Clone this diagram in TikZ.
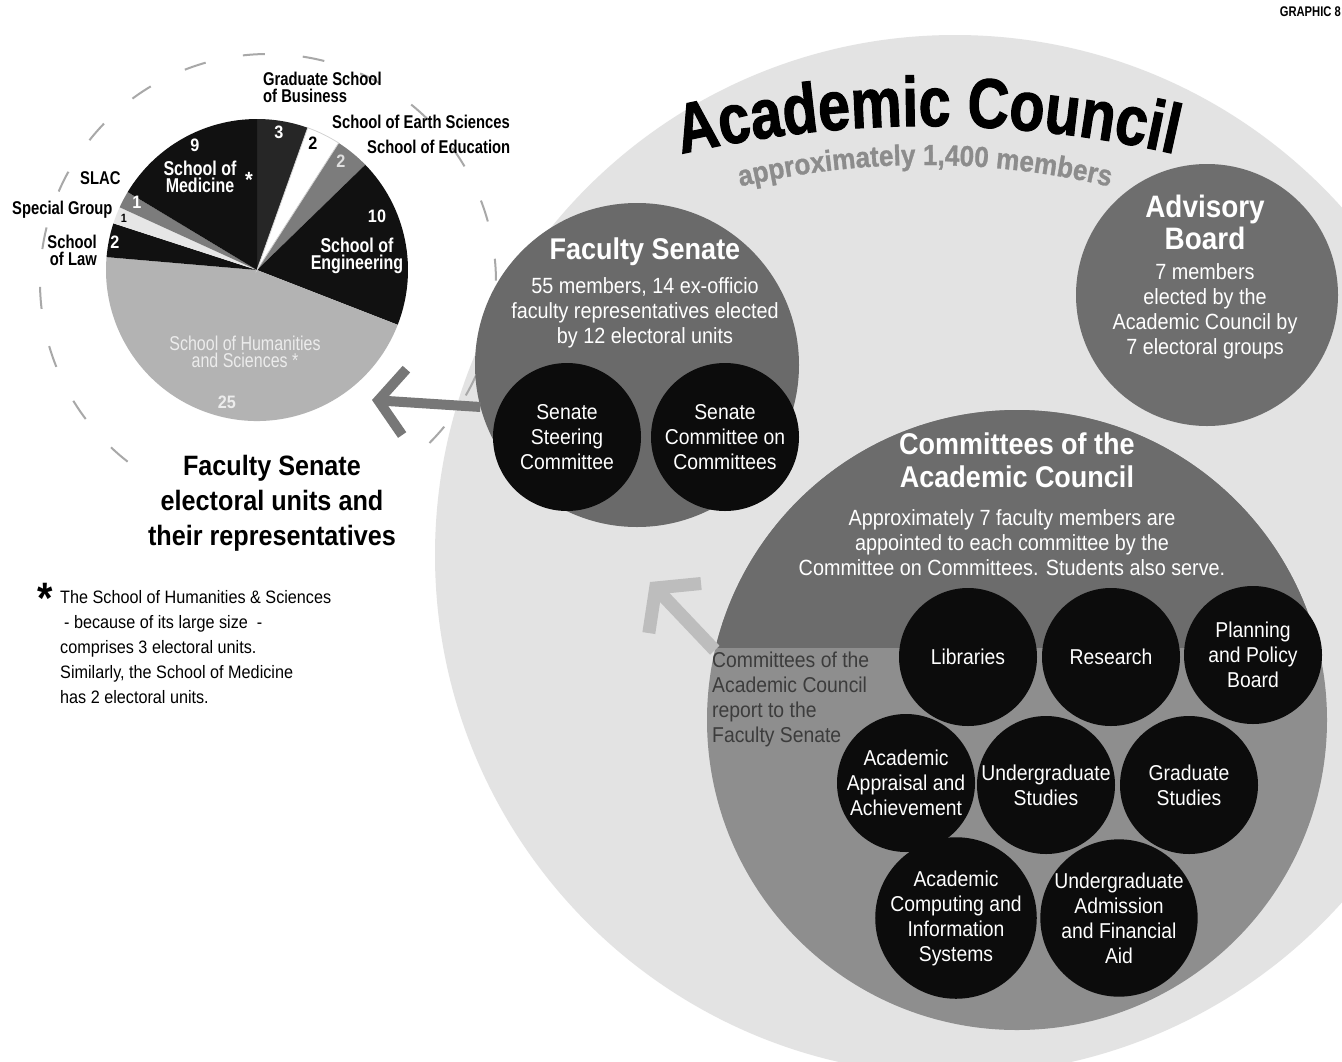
\documentclass[tikz,border=0pt]{standalone}
\usepackage{fontspec}
\setmainfont{Liberation Sans}[FakeStretch=0.9]
\newfontfamily\narrowfont{Liberation Sans}[FakeStretch=0.8]
\newfontfamily\titlefont{Liberation Sans}[FakeStretch=0.82, BoldFeatures={FakeBold=1.5}]
\newfontfamily\subfont{Liberation Sans}[FakeStretch=0.9, BoldFeatures={FakeBold=1}]
\usetikzlibrary{arrows.meta,decorations.text}
\definecolor{councilgray}{HTML}{E3E3E3}
\definecolor{senategray}{HTML}{6A6A6A}
\definecolor{advisorygray}{HTML}{6E6E6E}
\definecolor{comtop}{HTML}{6C6C6C}
\definecolor{combot}{HTML}{8E8E8E}
\definecolor{discblack}{HTML}{0C0C0C}
\definecolor{subgray}{HTML}{8C8C8C}
\definecolor{arrowgray}{HTML}{777777}
\definecolor{reportgray}{HTML}{BDBDBD}
\definecolor{ringgray}{HTML}{A8A8A8}
\definecolor{pieblack}{HTML}{111111}
\definecolor{piedark}{HTML}{262626}
\definecolor{piemid}{HTML}{7C7C7C}
\definecolor{pielight}{HTML}{B3B3B3}
\definecolor{pieedge}{HTML}{E6E6E6}
\definecolor{reporttext}{HTML}{3C3C3C}
\tikzset{
  disc/.style={circle, inner sep=0pt},
  blackdisc/.style={disc, fill=discblack, text=white, align=center,
    font=\fontsize{21.5}{25}\selectfont},
  headtext/.style={text=white, align=center, inner sep=0pt,
    font=\bfseries\fontsize{#1}{#1}\selectfont},
  bodytext/.style={text=white, align=center, inner sep=0pt,
    font=\fontsize{22}{25}\selectfont},
  pielabel/.style={inner sep=0pt, font=\narrowfont\bfseries\fontsize{18.5}{17}\selectfont},
  pienum/.style={inner sep=0pt, text=white, font=\bfseries\fontsize{18}{18}\selectfont},
  piearrow/.style={arrowgray, line width=10pt, -{Straight Barb[length=26pt, width=66pt]}},
  reportarrow/.style={reportgray, line width=13pt, -{Straight Barb[length=28pt, width=72pt]}},
  ringdash/.style={ringgray, line width=2pt, dash pattern=on 22pt off 38pt}
}
\begin{document}
\begin{tikzpicture}[x=1pt,y=-1pt]
\useasboundingbox[fill=white] (0,0) rectangle (1342,1061);

\node[disc, fill=councilgray, minimum size=1040pt] (council) at (955,555) {};
\draw[ringdash] (268,282) ++(128:228) arc[start angle=128, end angle=412, radius=228];

\path[decorate, decoration={text along path, text align=center,
    text={|\titlefont\bfseries\fontsize{70}{70}\selectfont|Academic Council}}]
  (928,1226) ++(-104:1100) arc[start angle=-104, end angle=-76, radius=1100];
\path[decorate, decoration={text along path, text align=center, text color=subgray,
    text={|\subfont\bfseries\fontsize{29}{29}\selectfont|approximately 1,400 members}}]
  (925,965) ++(-105:800) arc[start angle=-105, end angle=-75, radius=800];

\node[disc, fill=senategray, minimum size=324pt] (senate) at (637,365) {};
\node[headtext=30] (senatetitle) at (645,252) {Faculty Senate};
\node[bodytext] (senatebody) at (645,313) {55 members, 14 ex-officio\\faculty representatives elected\\by 12 electoral units};
\node[blackdisc, minimum size=148pt] (steering) at (567,437) {Senate\\Steering\\Committee};
\node[blackdisc, minimum size=148pt] (comoncom) at (725,437) {Senate\\Committee on\\Committees};

\node[disc, fill=advisorygray, minimum size=262pt] (advisory) at (1207,295) {};
\node[headtext=31] (advisorytitle) at (1205,222) {Advisory\\[1pt]Board};
\node[bodytext] (advisorybody) at (1205,311) {7 members\\elected by the\\Academic Council by\\7 electoral groups};

\node[disc, fill=combot, minimum size=620pt] (committees) at (1017,720) {};
\begin{scope}
  \clip (committees.center) circle[radius=310];
  \fill[comtop] (700,400) rectangle (1340,648);
\end{scope}
\node[headtext=30] (comtitle) at (1017,460) {Committees of the\\[3pt]Academic Council};
\node[bodytext] (combody) at (1012,543) {Approximately 7 faculty members are\\appointed to each committee by the\\Committee on Committees. Students also serve.};

\node[blackdisc, minimum size=138pt] (libraries) at (968,657) {Libraries};
\node[blackdisc, minimum size=138pt] (research) at (1111,657) {Research};
\node[blackdisc, minimum size=138pt] (planning) at (1253,655) {Planning\\and Policy\\Board};
\node[blackdisc, minimum size=138pt] (appraisal) at (906,783) {Academic\\Appraisal and\\Achievement};
\node[blackdisc, minimum size=138pt] (ugstudies) at (1046,785) {Undergraduate\\Studies};
\node[blackdisc, minimum size=138pt] (gradstudies) at (1189,785) {Graduate\\Studies};
\node[blackdisc, minimum size=150pt] (computing) at (956,918) {Academic\\Computing and\\Information\\Systems};
\node[blackdisc, minimum size=150pt] (admission) at (1119,918) {Undergraduate\\Admission\\and Financial\\Aid};

\node[anchor=north west, align=left, inner sep=0pt, text=reporttext,
  font=\fontsize{21.5}{25}\selectfont] (report) at (712,652)
  {Committees of the\\Academic Council\\report to the\\Faculty Senate};
\coordinate (reporttip) at (650,582);
\draw[reportarrow] (committees.167) -- (reporttip);

\node[disc, minimum size=302pt] (pie) at (257,270) {};
\foreach \a/\b/\c in {0/3/piedark, 3/5/white, 5/7/piemid, 7/17/pieblack, 17/42/pielight,
    42/44/pieblack, 44/45/pieedge, 45/46/piemid, 46/55/pieblack}
  \fill[\c] (pie.center) -- ++({\a*6.54545-90}:151)
    arc[start angle={\a*6.54545-90}, end angle={\b*6.54545-90}, radius=151] -- cycle;
\draw[gray!35, line width=0.8pt] (pie.center) -- ++({3*6.54545-90}:151)
  arc[start angle={3*6.54545-90}, end angle={5*6.54545-90}, radius=151] -- cycle;

\draw
  (195,145) node[pienum] (n9){9}
  (279,132) node[pienum] (n3){3}
  (313,143) node[pienum, text=black] (n2a){2}
  (341,161) node[pienum, text=gray!25] (n2b){2}
  (377,216) node[pienum] (n10){10}
  (227,402) node[pienum, text=gray!15] (n25){25}
  (115,242) node[pienum] (n2c){2}
  (124,218) node[pienum, text=black, font=\bfseries\fontsize{12}{12}\selectfont] (n1a){1}
  (137,202) node[pienum] (n1b){1};
\node[inner sep=0pt, text=white, align=center,
  font=\narrowfont\bfseries\fontsize{20}{17}\selectfont] (medicine) at (200,177) {School of\\Medicine};
\node[inner sep=0pt, text=white, font=\bfseries\fontsize{22}{22}\selectfont] (medstar) at (249,180) {*};
\node[inner sep=0pt, text=white, align=center,
  font=\narrowfont\bfseries\fontsize{20}{17}\selectfont] (engineering) at (357,256) {School of\\Engineering};
\node[inner sep=0pt, text=gray!15, align=center,
  font=\narrowfont\fontsize{20}{17}\selectfont] (humanities) at (245,352) {School of Humanities\\and Sciences *};

\node[pielabel, anchor=west, align=left] (business) at (263,87) {Graduate School\\of Business};
\node[pielabel, anchor=west] (earth) at (332,122) {School of Earth Sciences};
\node[pielabel, anchor=west] (education) at (367,147) {School of Education};
\node[pielabel, anchor=west] (slac) at (80,178) {SLAC};
\node[pielabel, anchor=west] (special) at (12,210) {Special Group};
\node[pielabel, anchor=east, align=right] (law) at (97,250) {School\\of Law};

\coordinate (pietip) at (372,400);
\draw[piearrow] (senate.195) -- (pietip);

\node[inner sep=0pt, align=center, font=\bfseries\fontsize{28}{35}\selectfont] (pietitle) at (272,503)
  {Faculty Senate\\electoral units and\\their representatives};

\node[inner sep=0pt, font=\bfseries\fontsize{44}{44}\selectfont] (star) at (45,598) {*};
\node[anchor=north west, align=left, inner sep=0pt, font=\fontsize{18}{25}\selectfont] (note) at (60,590)
  {The School of Humanities \& Sciences\\\hspace{4pt}- because of its large size \ -\\comprises 3 electoral units.\\Similarly, the School of Medicine\\has 2 electoral units.};

\node[anchor=east, inner sep=0pt, font=\narrowfont\bfseries\fontsize{14}{14}\selectfont] (graphic) at (1341,12) {GRAPHIC 8};
\end{tikzpicture}
\end{document}
